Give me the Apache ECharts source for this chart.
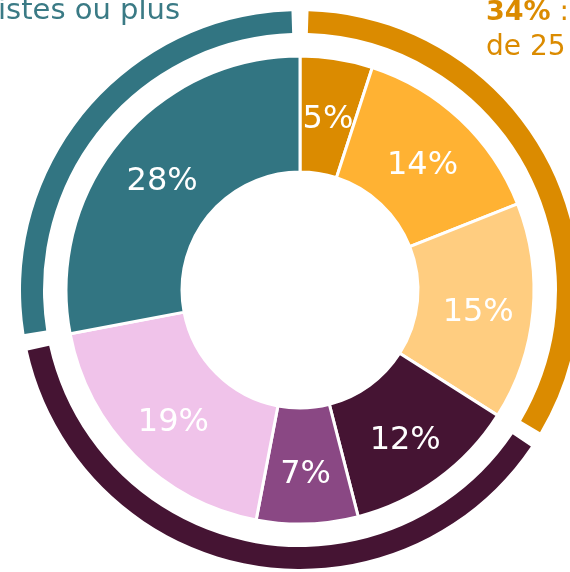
<!DOCTYPE html>
<html><head><meta charset="utf-8">
<script src="https://cdn.jsdelivr.net/npm/echarts@6/dist/echarts.min.js"></script>
<style>html,body{margin:0;padding:0;background:#fff}#c{width:570px;height:572px}</style>
</head><body><div id="c"></div>
<script>
const innerValues = [5, 14, 15, 12, 7, 19, 28];
const innerColors = ['#DB8B00', '#FFB233', '#FFCD80', '#451433', '#8A4884', '#F0C3EA', '#327582'];
const outerValues = [34, 38, 28];
const outerColors = ['#DB8B00', '#451433', '#327582'];

const chart = echarts.init(document.getElementById('c'));
chart.setOption({
  animation: false,
  series: [
    {
      type: 'pie', center: [300, 290], radius: [118, 234], startAngle: 90,
      silent: true,
      itemStyle: { borderColor: '#fff', borderWidth: 3 },
      label: { show: true, position: 'inside', formatter: '{c}%', color: '#fff',
        fontSize: 32, fontFamily: '"DejaVu Sans", sans-serif', offset: [0, 6] },
      labelLine: { show: false },
      data: innerValues.map((v, i) => ({ value: v, itemStyle: { color: innerColors[i] } }))
    },
    {
      type: 'pie', center: [300, 290], radius: [257, 279], startAngle: 90,
      padAngle: 3.5, silent: true,
      label: { show: false }, labelLine: { show: false },
      data: outerValues.map((v, i) => ({ value: v, itemStyle: { color: outerColors[i] } }))
    }
  ],
  graphic: [
    { type: 'text', x: 180, y: -3, style: { text: 'artistes ou plus', fill: '#3A7A85',
      font: '29px "DejaVu Sans", sans-serif', align: 'right', verticalAlign: 'top' } },
    { type: 'text', x: 486, y: -5, style: { text: '{b|34%} : entreprises\nde 25 salariés', fill: '#DB8B00',
      font: '28px "DejaVu Sans", sans-serif', lineHeight: 35, verticalAlign: 'top',
      rich: { b: { fontWeight: 'bold', fontSize: 27, fill: '#DB8B00', fontFamily: '"DejaVu Sans", sans-serif' } } } }
  ]
});
</script></body></html>
